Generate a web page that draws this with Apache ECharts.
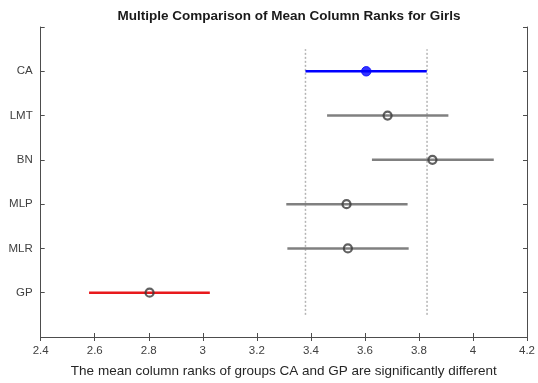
<!DOCTYPE html>
<html><head><meta charset="utf-8">
<script src="https://cdn.jsdelivr.net/npm/echarts@6/dist/echarts.min.js"></script>
<style>html,body{margin:0;padding:0;background:#fff}#c{width:538px;height:383px}</style>
</head><body><div id="c"></div>
<script>
const groups = ['GP','MLR','MLP','BN','LMT','CA'];
const means  = [2.803, 3.537, 3.532, 3.850, 3.684, 3.605];
const lowers = [2.579, 3.313, 3.309, 3.626, 3.460, 3.380];
const uppers = [3.026, 3.762, 3.758, 4.077, 3.909, 3.829];
const groupColors = ['#e8191c','#808080','#808080','#808080','#808080','#0000ff'];
const refLines = [3.38, 3.83];
const xTicks = ['2.4','2.6','2.8','3','3.2','3.4','3.6','3.8','4','4.2'];
const titleText = 'Multiple Comparison of Mean Column Ranks for Girls';
const xName = 'The mean column ranks of groups CA and GP are significantly different';
const highlight = 'CA';

const chart = echarts.init(document.getElementById('c'), null, {renderer:'canvas'});
const FONT = 'Liberation Sans, Arial, sans-serif';
const axisCol = '#4d4d4d';

const intervalData = groups.map((g,i)=>[lowers[i], uppers[i], i+1, i]);
const pointData = groups.map((g,i)=>({value:[means[i], i+1], idx:i}));

chart.setOption({
  animation:false,
  title:{text:titleText,left:284,textAlign:'center',top:4,
    textStyle:{fontFamily:FONT,fontSize:13.5,fontWeight:'bold',color:'#1a1a1a'}},
  grid:{left:40.7,right:10.4,top:27,bottom:46,show:false},
  xAxis:[{type:'value',min:2.4,max:4.2,interval:0.2,position:'bottom',
    name:xName,nameLocation:'middle',nameGap:27,
    nameTextStyle:{fontFamily:FONT,fontSize:13.5,color:'#262626'},
    axisLine:{show:true,lineStyle:{color:axisCol,width:1}},
    axisTick:{show:true,inside:true,length:4,lineStyle:{color:axisCol}},
    axisLabel:{fontFamily:FONT,fontSize:11.5,color:'#404040',margin:8,
      formatter:(v)=>{const k=Math.round((v-2.4)/0.2);return xTicks[k]!==undefined?xTicks[k]:'';}},
    splitLine:{show:false}},
   {type:'value',min:2.4,max:4.2,interval:0.2,position:'top',
    axisLine:{show:true,lineStyle:{color:axisCol,width:1}},
    axisTick:{show:true,inside:true,length:4,lineStyle:{color:axisCol}},
    axisLabel:{show:false},splitLine:{show:false}}],
  yAxis:[{type:'value',min:0,max:7,interval:1,position:'left',
    axisLine:{show:true,lineStyle:{color:axisCol,width:1}},
    axisTick:{show:true,inside:true,length:4,lineStyle:{color:axisCol}},
    axisLabel:{fontFamily:FONT,fontSize:11.5,color:'#404040',margin:8,
      formatter:(v)=>groups[v-1]||''},
    splitLine:{show:false}},
   {type:'value',min:0,max:7,interval:1,position:'right',
    axisLine:{show:true,lineStyle:{color:axisCol,width:1}},
    axisTick:{show:true,inside:true,length:4,lineStyle:{color:axisCol}},
    axisLabel:{show:false},splitLine:{show:false}}],
  series:[
    {type:'custom',name:'ref',xAxisIndex:0,yAxisIndex:0,
     data:refLines.map(v=>[v,0.5,6.5]),
     renderItem:(params,api)=>{
       const p1=api.coord([api.value(0),api.value(1)]);
       const p2=api.coord([api.value(0),api.value(2)]);
       return {type:'line',shape:{x1:p1[0],y1:p1[1],x2:p2[0],y2:p2[1]},
         style:{stroke:'#b4b4b4',lineWidth:1.5,lineDash:[2,2]}};
     },z:1},
    {type:'custom',name:'intervals',xAxisIndex:0,yAxisIndex:0,
     data:intervalData,
     renderItem:(params,api)=>{
       const p1=api.coord([api.value(0),api.value(2)]);
       const p2=api.coord([api.value(1),api.value(2)]);
       const c=groupColors[api.value(3)];
       return {type:'line',shape:{x1:p1[0],y1:p1[1],x2:p2[0],y2:p2[1]},
         style:{stroke:c,lineWidth:2.5}};
     },z:2},
    {type:'scatter',name:'means',xAxisIndex:0,yAxisIndex:0,symbol:'circle',
     data:pointData.map(d=>{
       const isH = groups[d.idx]===highlight;
       return {value:d.value,symbolSize:isH?9.5:8,
         itemStyle:isH?{color:'#0000ff',borderColor:'#0000ff',borderWidth:1}
                      :{color:'transparent',borderColor:'#3a3a3a',borderWidth:2.2}};
     }),z:3}
  ]
});
</script></body></html>
